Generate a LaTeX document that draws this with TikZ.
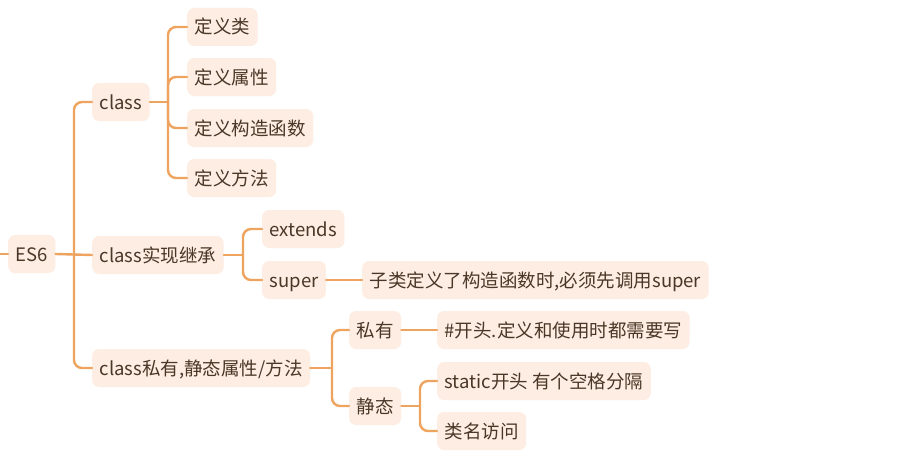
\documentclass[tikz,border=0pt]{standalone}
\usepackage{fontspec}
\setmainfont{Noto Sans CJK SC}
\definecolor{boxfill}{HTML}{FDEDE2}
\definecolor{linecol}{HTML}{EEA45E}
\definecolor{txtcol}{HTML}{4A3727}
\tikzset{
  topic/.style={anchor=west, fill=boxfill, rounded corners=7pt, inner xsep=7.5pt, inner ysep=0pt,
    minimum height=38pt, text height=16.5pt, text depth=2.5pt, text=txtcol,
    font=\fontsize{18.5}{22}\selectfont},
  conn/.style={draw=linecol, line width=2.4pt, rounded corners=8pt, line cap=round}
}
\begin{document}
\begin{tikzpicture}[x=1pt,y=-1pt]
\useasboundingbox[fill=white] (0,0) rectangle (917,460);
% nodes
\node[topic] (es6) at (8,254) {ES6};
\node[topic] (cls) at (92,102) {class};
\node[topic] (inh) at (92,255) {class实现继承};
\node[topic] (prv) at (92,368) {class私有,静态属性/方法};
\node[topic] (d1) at (187,27) {定义类};
\node[topic] (d2) at (187,77) {定义属性};
\node[topic] (d3) at (187,128) {定义构造函数};
\node[topic] (d4) at (187,178) {定义方法};
\node[topic] (ext) at (262,229) {extends};
\node[topic] (sup) at (262,280) {super};
\node[topic] (supd) at (362,280) {子类定义了构造函数时,必须先调用super};
\node[topic] (sy) at (349,330) {私有};
\node[topic] (jt) at (349,406) {静态};
\node[topic] (syd) at (437,330) {\#开头.定义和使用时都需要写};
\node[topic] (st1) at (437,381) {static开头 有个空格分隔};
\node[topic] (st2) at (437,431) {类名访问};
% junctions
\coordinate (left) at (0,254);
\coordinate (j0) at (74,254);
\coordinate (j1) at (168,102);
\coordinate (j2) at (243,255);
\coordinate (j3) at (332,368);
\coordinate (j4) at (420,406);
% connectors
\draw[conn] (left) -- (es6.west);
\draw[conn] (es6.east) -- (inh.west);
\draw[conn] (j0) |- (cls.west);
\draw[conn] (j0) |- (prv.west);
\draw[conn] (cls.east) -- (j1);
\draw[conn] (j1) |- (d1.west);
\draw[conn] (j1) |- (d2.west);
\draw[conn] (j1) |- (d3.west);
\draw[conn] (j1) |- (d4.west);
\draw[conn] (inh.east) -- (j2);
\draw[conn] (j2) |- (ext.west);
\draw[conn] (j2) |- (sup.west);
\draw[conn] (sup.east) -- (supd.west);
\draw[conn] (prv.east) -- (j3);
\draw[conn] (j3) |- (sy.west);
\draw[conn] (j3) |- (jt.west);
\draw[conn] (sy.east) -- (syd.west);
\draw[conn] (jt.east) -- (j4);
\draw[conn] (j4) |- (st1.west);
\draw[conn] (j4) |- (st2.west);
\end{tikzpicture}
\end{document}
